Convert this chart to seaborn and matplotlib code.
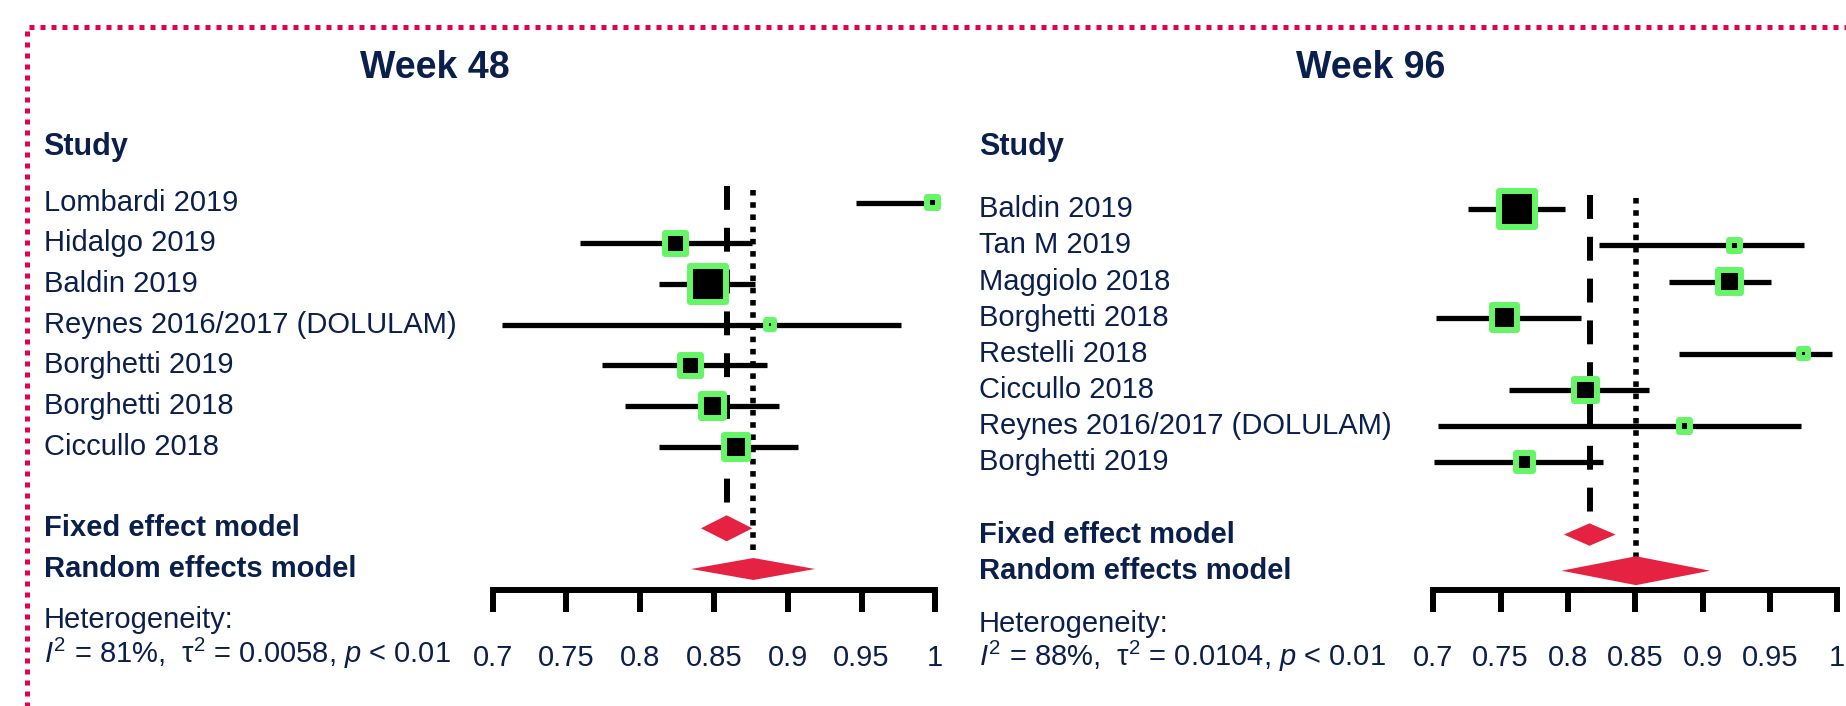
"""Forest plots of proportions at week 48 and week 96"""

import numpy as np
import pandas as pd
import matplotlib
matplotlib.use("Agg")
import matplotlib.pyplot as plt
import matplotlib.transforms as mtransforms
from matplotlib.lines import Line2D
import seaborn as sns

# Week 48 data
w48_studies = ["Lombardi 2019", "Hidalgo 2019", "Baldin 2019", "Reynes 2016/2017 (DOLULAM)",
               "Borghetti 2019", "Borghetti 2018", "Ciccullo 2018"]
w48_est = [0.998, 0.824, 0.846, 0.888, 0.834, 0.849, 0.865]
w48_lower = [0.946, 0.759, 0.813, 0.706, 0.774, 0.790, 0.813]
w48_upper = [1.000, 0.876, 0.878, 0.977, 0.886, 0.894, 0.907]
w48_weight = [1.2, 11.1, 44.3, 0.4, 11.1, 15.9, 15.9]
w48_fixed = [0.8586, 0.8412, 0.8760]     # estimate, lower, upper
w48_random = [0.8767, 0.8344, 0.9185]
w48_het = (81, "0.0058", "0.01")

# Week 96 data
w96_studies = ["Baldin 2019", "Tan M 2019", "Maggiolo 2018", "Borghetti 2018", "Restelli 2018",
               "Ciccullo 2018", "Reynes 2016/2017 (DOLULAM)", "Borghetti 2019"]
w96_est = [0.762, 0.9235, 0.9196, 0.7527, 0.975, 0.8127, 0.8866, 0.7676]
w96_lower = [0.726, 0.823, 0.875, 0.702, 0.8825, 0.7565, 0.7037, 0.7007]
w96_upper = [0.798, 0.975, 0.9505, 0.8097, 0.996, 0.860, 0.9728, 0.8262]
w96_weight = [43.6, 1.4, 14.2, 18.0, 0.5, 14.2, 1.4, 6.7]
w96_fixed = [0.8160, 0.7970, 0.8354]
w96_random = [0.8505, 0.7953, 0.9055]
w96_het = (88, "0.0104", "0.01")

tick_values = [0.7, 0.75, 0.8, 0.85, 0.9, 0.95, 1]
tick_labels = ["0.7", "0.75", "0.8", "0.85", "0.9", "0.95", "1"]

NAVY = "#0B1F4D"
GREEN = "#66F566"
RED = "#E62243"
BORDER = "#E5004C"

W, H = 1846, 706

sns.set_theme(style="white")
plt.rcParams["font.family"] = ["Liberation Sans", "DejaVu Sans"]
plt.rcParams["mathtext.fontset"] = "custom"
plt.rcParams["mathtext.rm"] = "Liberation Sans"
plt.rcParams["mathtext.it"] = "Liberation Sans:italic"

fig = plt.figure(figsize=(W / 100, H / 100), dpi=100)


def fx(x):
    return x / W


def fy(y):
    return 1 - y / H


def draw_panel(ax, studies, est, lower, upper, weight, fixed, random, het,
               title, title_x, label_x, ylim, dia_h, het_y):
    df = pd.DataFrame({"study": studies, "est": est, "lower": lower,
                       "upper": upper, "weight": weight})
    df["row"] = np.arange(len(df))
    k = len(df)
    fixed_row, random_row = k + 1, k + 2

    # reference lines
    ax.plot([fixed[0], fixed[0]], [-0.4, fixed_row - 0.5], color="black", lw=4.3,
            ls=(0, (4, 3)), dash_capstyle="butt", zorder=2, clip_on=False)
    ax.plot([random[0], random[0]], [-0.3, random_row - 0.35], color="black", lw=4.0,
            ls=(0, (1, 1.2)), dash_capstyle="butt", zorder=2, clip_on=False)

    # confidence intervals
    for _, r in df.iterrows():
        ax.plot([r["lower"], r["upper"]], [r["row"], r["row"]], color="black", lw=3.8,
                solid_capstyle="butt", zorder=3, clip_on=False)

    # study boxes, area proportional to weight
    inner_px = 4.5 * np.sqrt(df["weight"].values)
    side_pt = (inner_px + 6) * 0.72
    sns.scatterplot(data=df, x="est", y="row", ax=ax, marker="s", s=side_pt ** 2,
                    color="black", edgecolor=GREEN, linewidth=4.3, zorder=4,
                    clip_on=False, legend=False)

    # summary diamonds
    for (e, lo, hi), row, h in [(fixed, fixed_row, dia_h[0]), (random, random_row, dia_h[1])]:
        ax.fill([lo, e, hi, e], [row, row - h, row, row + h], color=RED, lw=0,
                zorder=5, clip_on=False)

    ax.set_xlim(0.7, 1.0)
    ax.set_ylim(*ylim)
    ax.set_xticks(tick_values)
    ax.set_xticklabels(tick_labels)
    ax.set_yticks([])
    ax.set_xlabel("")
    ax.set_ylabel("")
    for side in ["left", "right", "top"]:
        ax.spines[side].set_visible(False)
    ax.spines["bottom"].set_linewidth(4.3)
    ax.spines["bottom"].set_color("black")
    ax.tick_params(axis="x", direction="out", length=16, width=4.3, color="black",
                   bottom=True, labelsize=21, labelcolor=NAVY, pad=23)
    ax.patch.set_alpha(0)

    # text on the left of each panel
    trans = mtransforms.blended_transform_factory(fig.transFigure, ax.transData)
    fig.text(fx(title_x), fy(68), title, ha="center", va="center", fontsize=27,
             fontweight="bold", color=NAVY)
    fig.text(fx(label_x), fy(147), "Study", ha="left", va="center", fontsize=22,
             fontweight="bold", color=NAVY)
    for _, r in df.iterrows():
        ax.text(fx(label_x), r["row"], r["study"], transform=trans, ha="left",
                va="center", fontsize=21, color=NAVY)
    ax.text(fx(label_x), fixed_row, "Fixed effect model", transform=trans, ha="left",
            va="center", fontsize=21, fontweight="bold", color=NAVY)
    ax.text(fx(label_x), random_row, "Random effects model", transform=trans, ha="left",
            va="center", fontsize=21, fontweight="bold", color=NAVY)
    fig.text(fx(label_x), fy(het_y[0]), "Heterogeneity:", ha="left", va="center",
             fontsize=21, color=NAVY)
    i2, tau2, p = het
    fig.text(fx(label_x), fy(het_y[1]),
             r"$\mathit{I}^{2}$ = " + f"{i2}%,  τ" + r"$^{2}$" + f" = {tau2}, "
             + r"$\mathit{p}$" + f" < {p}",
             ha="left", va="center", fontsize=21, color=NAVY)


# left panel: 0.7 at x=492.7px, 1 at x=935.3px, axis line at y=590px
ax1 = fig.add_axes([fx(492.7), fy(590), fx(935.3 - 492.7), (590 - 170) / H])
draw_panel(ax1, w48_studies, w48_est, w48_lower, w48_upper, w48_weight, w48_fixed,
           w48_random, w48_het, "Week 48", 435, 43.5, (9.516, -0.803), (0.32, 0.27),
           (620, 653))

ax2 = fig.add_axes([fx(1433.3), fy(590), fx(1837.3 - 1433.3), (590 - 170) / H])
draw_panel(ax2, w96_studies, w96_est, w96_lower, w96_upper, w96_weight, w96_fixed,
           w96_random, w96_het, "Week 96", 1371, 979, (10.534, -1.087), (0.31, 0.40),
           (624, 656))

# dotted frame
fig.add_artist(Line2D([fx(27), fx(27), fx(W + 10)], [fy(H + 10), fy(26.7), fy(26.7)],
                      transform=fig.transFigure, color=BORDER, lw=3.6,
                      ls=(0, (1, 1.2)), dash_capstyle="butt"))

fig.savefig("out.png", dpi=100)
